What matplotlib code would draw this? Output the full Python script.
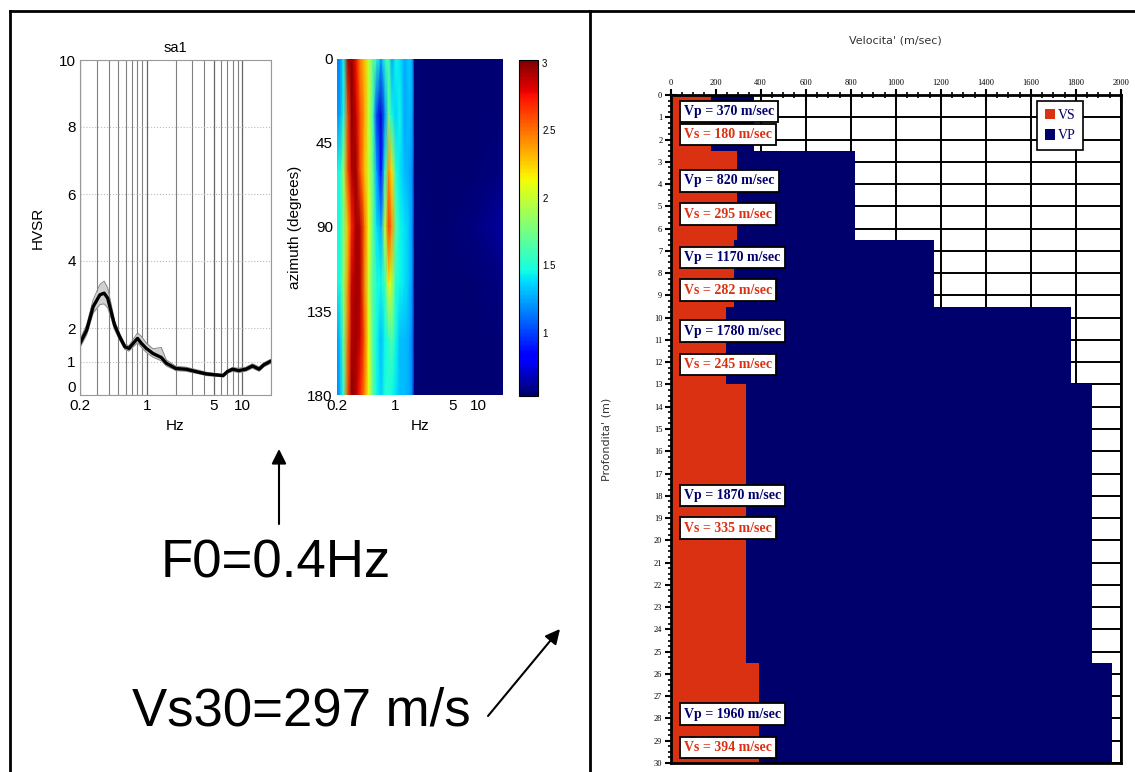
import numpy as np
import matplotlib.pyplot as plt
from matplotlib.colors import ListedColormap
from matplotlib.patches import Patch
from matplotlib.ticker import NullFormatter, MultipleLocator

plt.rcParams['font.family'] = ['Liberation Sans', 'DejaVu Sans']

# --- HVSR curve (sa1), mean and +/- band ---
hv_freq = [0.2, 0.235, 0.275, 0.323, 0.358, 0.39, 0.428, 0.46, 0.52, 0.59, 0.65, 0.72,
           0.8, 0.88, 0.99, 1.16, 1.42, 1.6, 2.02, 2.58, 3.27, 4.2, 5.3, 6.3, 7.0, 7.9,
           9.2, 10.9, 12.8, 15.0, 16.8, 19.6]
hv_mean = [1.54, 1.94, 2.64, 2.99, 3.04, 2.89, 2.44, 2.09, 1.74, 1.44, 1.39, 1.54,
           1.69, 1.54, 1.39, 1.24, 1.12, 0.95, 0.79, 0.77, 0.70, 0.63, 0.60, 0.58, 0.70, 0.77,
           0.73, 0.77, 0.87, 0.77, 0.90, 1.00]
hv_upper = [1.66, 2.10, 2.85, 3.30, 3.40, 3.20, 2.65, 2.22, 1.84, 1.52, 1.47, 1.66,
            1.85, 1.75, 1.55, 1.38, 1.42, 1.05, 0.86, 0.83, 0.76, 0.68, 0.64, 0.62, 0.75, 0.82,
            0.80, 0.83, 0.93, 0.84, 0.96, 1.06]
hv_lower = [1.42, 1.80, 2.45, 2.70, 2.72, 2.60, 2.25, 1.95, 1.64, 1.36, 1.31, 1.44,
            1.56, 1.42, 1.27, 1.13, 1.02, 0.87, 0.73, 0.71, 0.65, 0.58, 0.56, 0.54, 0.65, 0.71,
            0.67, 0.71, 0.80, 0.71, 0.84, 0.94]

# --- azimuthal HVSR map ---
az_deg = [0, 30, 60, 90, 120, 150, 180]
map_freq = [0.20, 0.22, 0.24, 0.27, 0.30, 0.34, 0.38, 0.43, 0.48, 0.54, 0.60, 0.68,
            0.76, 0.84, 0.92, 1.02, 1.15, 1.30, 1.50, 1.62, 1.72, 3.0, 8.0, 20.0]
hv_az0 = [1.15, 1.20, 1.45, 2.90, 3.00, 2.75, 2.45, 2.30, 2.00, 1.70, 1.55, 1.25,
          1.55, 1.60, 1.25, 1.45, 1.40, 1.25, 1.35, 1.25, 0.55, 0.54, 0.54, 0.55]
hv_az30 = [1.20, 1.25, 1.50, 2.60, 3.00, 2.85, 2.60, 2.35, 2.00, 1.60, 1.00, 0.70,
           1.20, 1.70, 1.45, 1.35, 1.45, 1.25, 1.30, 1.25, 0.55, 0.54, 0.54, 0.55]
hv_az60 = [1.45, 1.50, 1.90, 2.60, 2.90, 2.95, 2.60, 2.30, 2.00, 1.70, 1.25, 0.85,
           1.55, 2.40, 2.20, 1.50, 1.40, 1.30, 1.25, 1.20, 0.55, 0.54, 0.54, 0.57]
hv_az90 = [1.45, 1.50, 1.80, 2.30, 2.70, 2.95, 2.90, 2.50, 2.10, 1.70, 1.40, 1.25,
           2.00, 2.65, 2.40, 1.65, 1.45, 1.40, 1.30, 1.20, 0.56, 0.54, 0.56, 0.62]
hv_az120 = [1.45, 1.50, 1.85, 2.40, 2.85, 2.95, 2.90, 2.45, 2.00, 1.65, 1.50, 1.45,
            1.60, 2.15, 1.95, 1.50, 1.45, 1.40, 1.30, 1.20, 0.55, 0.54, 0.54, 0.57]
hv_az150 = [1.20, 1.35, 1.75, 2.50, 2.90, 2.95, 2.85, 2.55, 2.10, 1.65, 1.45, 1.30,
            1.45, 1.55, 1.65, 1.45, 1.30, 1.30, 1.25, 1.15, 0.55, 0.54, 0.54, 0.55]
hv_az180 = [1.15, 1.30, 1.60, 2.60, 3.00, 2.90, 2.70, 2.45, 2.10, 1.70, 1.45, 1.35,
            1.50, 1.50, 1.45, 1.40, 1.30, 1.30, 1.25, 1.15, 0.55, 0.54, 0.54, 0.55]

# --- velocity profile ---
layer_top = [0, 2.5, 6.5, 9.5, 13, 25.5]
layer_bottom = [2.5, 6.5, 9.5, 13, 25.5, 30]
vs = [180, 295, 282, 245, 335, 394]
vp = [370, 820, 1170, 1780, 1870, 1960]

W, H = 1135, 772
RED = '#DA3112'
NAVY = '#00006C'

# jet with a darker navy bottom, like the original figure
jet_rgba = plt.cm.jet(np.linspace(0, 1, 256))
jet_rgba[:28, 2] = np.linspace(0.42, jet_rgba[28, 2], 28)
cmap_dark = ListedColormap(jet_rgba)


def px_axes(x0, y0, x1, y1):
    return fig.add_axes([x0 / W, 1 - y1 / H, (x1 - x0) / W, (y1 - y0) / H])


fig = plt.figure(figsize=(W / 100, H / 100), dpi=100)

# overlay in pixel coordinates: frames, big labels, arrows
ax0 = fig.add_axes([0, 0, 1, 1])
ax0.set_xlim(0, W)
ax0.set_ylim(H, 0)
ax0.axis('off')
ax0.plot([9.5, W], [11, 11], color='k', lw=2)
ax0.plot([9.5, 9.5], [11, H], color='k', lw=2)
ax0.plot([590, 590], [11, H], color='k', lw=2)
ax0.text(276, 563, 'F0=0.4Hz', fontsize=38, ha='center', va='center')
ax0.text(301, 712, 'Vs30=297 m/s', fontsize=38, ha='center', va='center')
arrow = dict(arrowstyle='-|>', color='k', lw=1.5, mutation_scale=22, shrinkA=0, shrinkB=0)
ax0.annotate('', xy=(279, 449), xytext=(279, 524), arrowprops=arrow)
ax0.annotate('', xy=(560, 629), xytext=(488, 716), arrowprops=arrow)

# HVSR curve
ax1 = px_axes(80, 60, 271, 395)
ax1.fill_between(hv_freq, hv_lower, hv_upper, color='#d0d0d0', lw=0)
ax1.plot(hv_freq, hv_upper, color='#888888', lw=0.7)
ax1.plot(hv_freq, hv_lower, color='#888888', lw=0.7)
ax1.plot(hv_freq, hv_mean, color='black', lw=2.4)
ax1.set_xscale('log')
ax1.set_xlim(0.2, 20)
ax1.set_ylim(0, 10)
ax1.set_yticks([0, 1, 2, 4, 6, 8, 10])
ax1.set_xticks([0.2, 1, 5, 10])
ax1.set_xticklabels(['0.2', '1', '5', '10'])
ax1.xaxis.set_minor_formatter(NullFormatter())
ax1.grid(which='major', axis='x', color='#666666', lw=0.9)
ax1.grid(which='minor', axis='x', color='#808080', lw=0.8)
ax1.grid(which='major', axis='y', color='#bbbbbb', lw=0.8, ls=':')
ax1.set_axisbelow(True)
ax1.tick_params(which='both', length=0, labelsize=11, pad=3)
ax1.get_yticklabels()[0].set_va('bottom')
for s in ax1.spines.values():
    s.set_color('#999999')
    s.set_linewidth(0.8)
ax1.set_title('sa1', fontsize=10.5, pad=6)
ax1.set_xlabel('Hz', fontsize=11, labelpad=4)
ax1.set_ylabel('HVSR', fontsize=11, labelpad=10)

# azimuth map
ax2 = px_axes(337, 59, 503, 395)
Z = np.array([hv_az0, hv_az30, hv_az60, hv_az90, hv_az120, hv_az150, hv_az180])
FX, AY = np.meshgrid(map_freq, az_deg)
mesh = ax2.pcolormesh(FX, AY, Z, shading='gouraud', cmap=cmap_dark, vmin=0.53, vmax=3.02)
ax2.set_xscale('log')
ax2.set_xlim(0.2, 20)
ax2.set_ylim(180, 0)
ax2.set_yticks([0, 45, 90, 135, 180])
ax2.set_xticks([0.2, 1, 5, 10])
ax2.set_xticklabels(['0.2', '1', '5', '10'])
ax2.xaxis.set_minor_locator(plt.NullLocator())
ax2.tick_params(which='both', length=0, labelsize=11, pad=3)
for s in ax2.spines.values():
    s.set_visible(False)
ax2.set_xlabel('Hz', fontsize=11, labelpad=4)
ax2.set_ylabel('azimuth (degrees)', fontsize=11, labelpad=4)

cax = px_axes(519, 60, 538, 396)
cb = fig.colorbar(mesh, cax=cax, ticks=[1, 1.5, 2, 2.5, 3])
cb.ax.set_yticklabels(['1', '1.5', '2', '2.5', '3'])
cb.ax.tick_params(length=0, labelsize=7, pad=3)
cb.outline.set_linewidth(0.8)

# velocity profile
ax3 = px_axes(670.6, 95, 1121, 763)
thick = [b - t for t, b in zip(layer_top, layer_bottom)]
ax3.barh(layer_top, vp, height=thick, align='edge', color=NAVY, lw=0, zorder=2)
ax3.barh(layer_top, vs, height=thick, align='edge', color=RED, lw=0, zorder=3)
ax3.set_xlim(0, 2000)
ax3.set_ylim(30, 0)
ax3.xaxis.tick_top()
ax3.set_xticks(range(0, 2001, 200))
ax3.set_yticks(range(0, 31))
ax3.xaxis.set_minor_locator(MultipleLocator(50))
ax3.yaxis.set_minor_locator(MultipleLocator(0.25))
ax3.grid(which='major', color='black', lw=1.4)
ax3.set_axisbelow(True)
ax3.tick_params(which='major', direction='inout', length=8, width=1.5, labelsize=6, pad=2)
ax3.tick_params(which='minor', direction='inout', length=5, width=1.2)
for lab in ax3.get_xticklabels() + ax3.get_yticklabels():
    lab.set_family('Liberation Serif')
for s in ax3.spines.values():
    s.set_linewidth(2)
    s.set_zorder(5)
ax3.text(0.5, 1.081, "Velocita' (m/sec)", transform=ax3.transAxes, ha='center', va='center',
         fontsize=8, color='#333333', family='DejaVu Sans')
ax3.set_ylabel("Profondita' (m)", fontsize=8, color='#333333', family='DejaVu Sans')
ax3.yaxis.set_label_coords(-0.132, 0.484)

vp_label_depth = [0.74, 3.86, 7.3, 10.6, 18.0, 27.8]
vs_label_depth = [1.77, 5.35, 8.76, 12.1, 19.45, 29.3]
box = dict(boxstyle='square,pad=0.3', fc='white', ec='black', lw=1.3)
for v, d in zip(vp, vp_label_depth):
    ax3.text(60, d, f'Vp = {v} m/sec', color=NAVY, fontsize=10, fontweight='bold',
             family='Liberation Serif', ha='left', va='center', bbox=box, zorder=6)
for v, d in zip(vs, vs_label_depth):
    ax3.text(60, d, f'Vs = {v} m/sec', color=RED, fontsize=10, fontweight='bold',
             family='Liberation Serif', ha='left', va='center', bbox=box, zorder=6)

handles = [Patch(facecolor=RED, label='VS'), Patch(facecolor=NAVY, label='VP')]
leg = ax3.legend(handles=handles, loc='upper right', bbox_to_anchor=(0.916, 0.991),
                 prop=dict(family='Liberation Serif', size=10), handlelength=0.75,
                 handleheight=0.75, handletextpad=0.2, labelspacing=0.55, fancybox=False,
                 edgecolor='black', framealpha=1, borderpad=0.55, borderaxespad=0)
leg.get_frame().set_linewidth(1.2)
leg.set_zorder(7)
for t in leg.get_texts():
    t.set_color(NAVY)

fig.savefig('out.png', dpi=100)
